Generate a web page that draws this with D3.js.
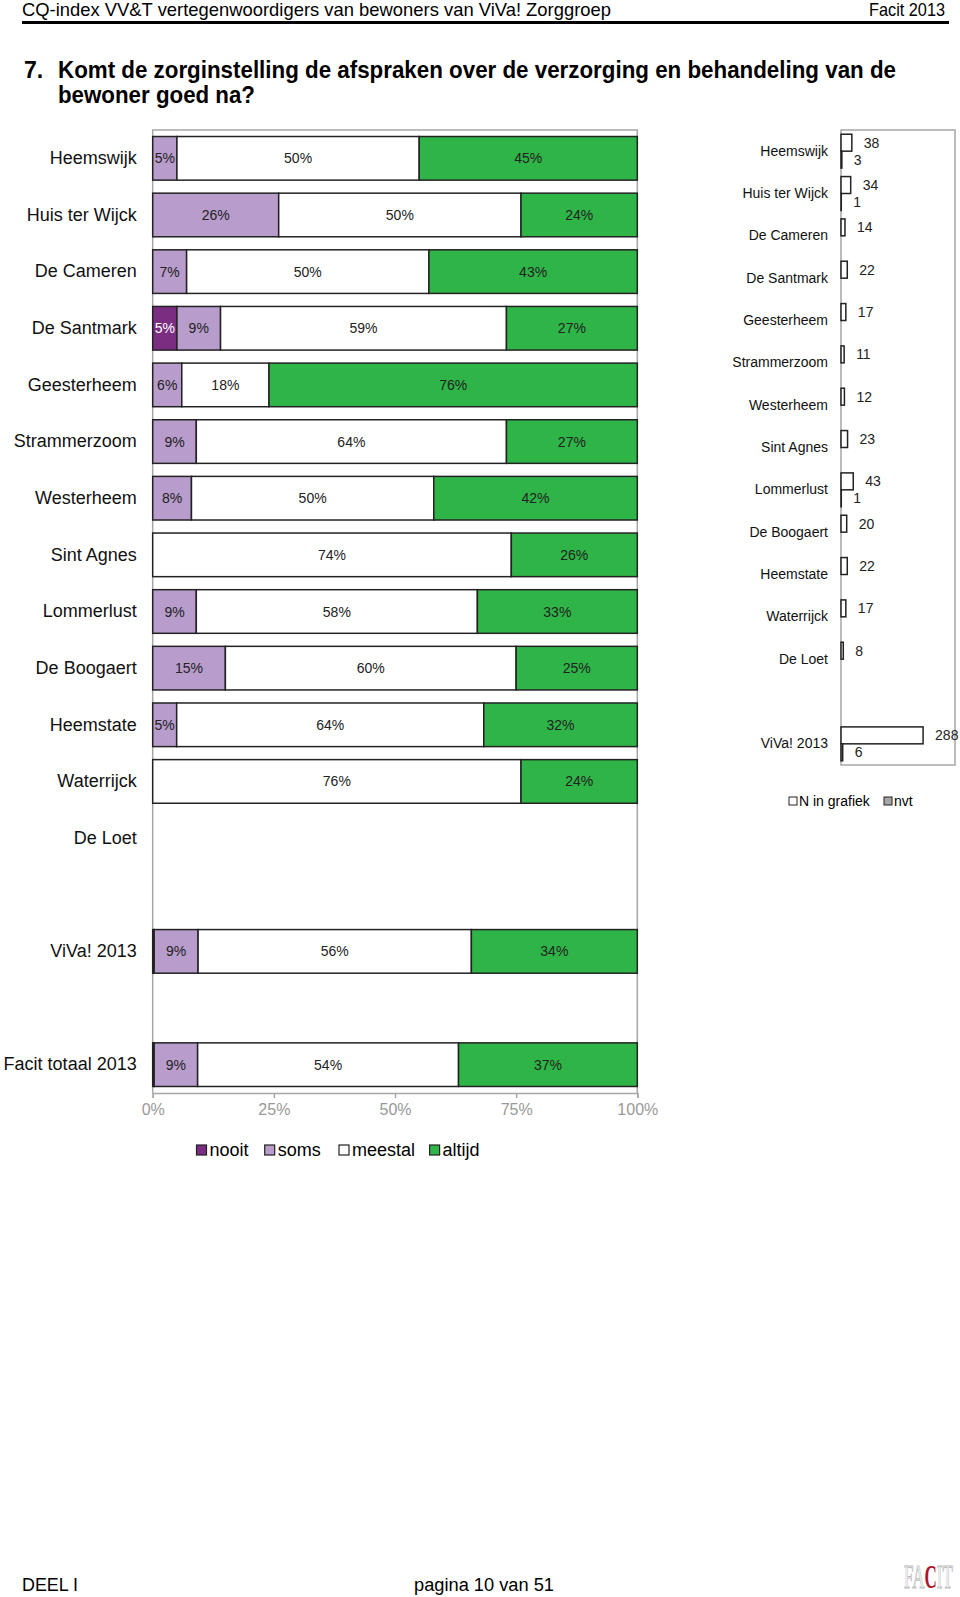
<!doctype html>
<html lang="nl">
<head>
  <meta charset="utf-8">
  <title>Komt de zorginstelling de afspraken na - D3</title>
  <style>
    body { margin: 0; background: #fff; }
    svg { display: block; font-family: "Liberation Sans", Arial, sans-serif; }
  </style>
</head>
<body>
  <svg></svg>
  <script src="https://cdn.jsdelivr.net/npm/d3@7/dist/d3.min.js"></script>
  <script>
    const width = 960;
    const height = 1597;

    // linker grafiek: null = lege rij (tussenruimte of geen data)
    const categories = ['Heemswijk', 'Huis ter Wijck', 'De Cameren', 'De Santmark', 'Geesterheem',
      'Strammerzoom', 'Westerheem', 'Sint Agnes', 'Lommerlust', 'De Boogaert', 'Heemstate',
      'Waterrijck', 'De Loet', 'gap1', 'ViVa! 2013', 'gap2', 'Facit totaal 2013'];
    const nooit   = [0, 0, 0, 5, 0, 0, 0, 0, 0, 0, 0, 0, null, null, 0.3, null, 0.3];
    const soms    = [5, 26, 7, 9, 6, 9, 8, 0, 9, 15, 5, 0, null, null, 9, null, 9];
    const meestal = [50, 50, 50, 59, 18, 64, 50, 74, 58, 60, 64, 76, null, null, 56, null, 54];
    const altijd  = [45, 24, 43, 27, 76, 27, 42, 26, 33, 25, 32, 24, null, null, 34, null, 37];
    const xTicks = [0, 0.25, 0.5, 0.75, 1];

    // rechter grafiek
    const nCategories = ['Heemswijk', 'Huis ter Wijck', 'De Cameren', 'De Santmark', 'Geesterheem',
      'Strammerzoom', 'Westerheem', 'Sint Agnes', 'Lommerlust', 'De Boogaert', 'Heemstate',
      'Waterrijck', 'De Loet', 'gap', 'ViVa! 2013'];
    const nInGrafiek = [38, 34, 14, 22, 17, 11, 12, 23, 43, 20, 22, 17, 8, null, 288];
    const nvt        = [3, 1, 0, 0, 0, 0, 0, 0, 1, 0, 0, 0, 0, null, 6];

    const keys = ['nooit', 'soms', 'meestal', 'altijd'];
    const colors = { nooit: '#7b2d82', soms: '#b89ccb', meestal: '#ffffff', altijd: '#2fb447' };

    const svg = d3.select('svg')
      .attr('width', width)
      .attr('height', height)
      .attr('viewBox', [0, 0, width, height]);

    const narrow = '"Liberation Sans Narrow", "Liberation Sans", sans-serif';

    // kop en voettekst
    function drawPage() {
      svg.append('text')
        .text('CQ-index VV&T vertegenwoordigers van bewoners van ViVa! Zorggroep')
        .attr('x', 22).attr('y', 16)
        .attr('font-family', narrow)
        .attr('font-size', 19)
        .attr('textLength', 589).attr('lengthAdjust', 'spacingAndGlyphs');
      svg.append('text')
        .text('Facit 2013')
        .attr('x', 945).attr('y', 16)
        .attr('text-anchor', 'end')
        .attr('font-family', narrow)
        .attr('font-size', 19)
        .attr('textLength', 76).attr('lengthAdjust', 'spacingAndGlyphs');
      svg.append('line')
        .attr('x1', 22).attr('x2', 949)
        .attr('y1', 22.5).attr('y2', 22.5)
        .attr('stroke', '#000').attr('stroke-width', 3);

      svg.append('text').text('7.')
        .attr('x', 24).attr('y', 78)
        .attr('font-family', narrow).attr('font-weight', 'bold').attr('font-size', 23);
      svg.append('text')
        .text('Komt de zorginstelling de afspraken over de verzorging en behandeling van de')
        .attr('x', 58).attr('y', 78)
        .attr('font-family', narrow).attr('font-weight', 'bold').attr('font-size', 23)
        .attr('textLength', 838).attr('lengthAdjust', 'spacingAndGlyphs');
      svg.append('text')
        .text('bewoner goed na?')
        .attr('x', 58).attr('y', 103)
        .attr('font-family', narrow).attr('font-weight', 'bold').attr('font-size', 23)
        .attr('textLength', 197).attr('lengthAdjust', 'spacingAndGlyphs');

      svg.append('text').text('DEEL I')
        .attr('x', 22).attr('y', 1591)
        .attr('font-family', narrow).attr('font-size', 18)
        .attr('textLength', 56).attr('lengthAdjust', 'spacingAndGlyphs');
      svg.append('text').text('pagina 10 van 51')
        .attr('x', 414).attr('y', 1591)
        .attr('font-family', narrow).attr('font-size', 18)
        .attr('textLength', 140).attr('lengthAdjust', 'spacingAndGlyphs');

      // logo (smal geschaald)
      const logo = svg.append('g')
        .attr('transform', 'translate(904,1588) scale(0.5,1)');
      const logoText = logo.append('text')
        .attr('x', 0).attr('y', 0)
        .attr('font-family', '"Liberation Serif", serif')
        .attr('font-size', 34);
      logoText.append('tspan').text('FA').attr('fill', 'none').attr('stroke', '#bbb').attr('stroke-width', 1);
      logoText.append('tspan').text('C').attr('fill', '#b0152e').attr('font-weight', 'bold');
      logoText.append('tspan').text('IT').attr('fill', 'none').attr('stroke', '#bbb').attr('stroke-width', 1);
    }

    // linker gestapelde staafgrafiek
    function drawStacked() {
      const left = 152.7, right = 637.3, top = 130, bottom = 1093;

      const x = d3.scaleLinear().domain([0, 1]).range([left, right]);
      const y = d3.scaleBand().domain(categories).range([top, bottom])
        .paddingInner(0.23).paddingOuter(0.115);

      const rows = categories.map((c, i) => ({
        name: c, nooit: nooit[i], soms: soms[i], meestal: meestal[i], altijd: altijd[i]
      })).filter(d => d.altijd !== null);

      const series = d3.stack().keys(keys).offset(d3.stackOffsetExpand)(rows);

      // kader
      svg.append('path')
        .attr('d', `M${left},${bottom}V${top}H${right}V${bottom}`)
        .attr('fill', 'none').attr('stroke', '#a6a6a6').attr('stroke-width', 1.5);

      const g = svg.append('g');
      series.forEach(s => {
        const key = s.key;
        g.append('g').selectAll('rect')
          .data(s.filter(d => d[1] - d[0] > 0))
          .join('rect')
          .attr('x', d => x(d[0]))
          .attr('y', d => y(d.data.name))
          .attr('width', d => x(d[1]) - x(d[0]))
          .attr('height', y.bandwidth())
          .attr('fill', colors[key])
          .attr('stroke', '#222')
          .attr('stroke-width', 1.5);

        g.append('g').selectAll('text')
          .data(s.filter(d => d.data[key] >= 3))
          .join('text')
          .attr('x', d => (x(d[0]) + x(d[1])) / 2)
          .attr('y', d => y(d.data.name) + y.bandwidth() / 2)
          .attr('text-anchor', 'middle')
          .attr('dominant-baseline', 'central')
          .attr('font-size', 14)
          .attr('fill', key === 'nooit' ? '#fff' : '#222')
          .text(d => d.data[key] + '%');
      });

      // categorie labels
      svg.append('g')
        .attr('transform', `translate(${left - 13},0)`)
        .call(d3.axisLeft(y).tickSize(0).tickFormat(d => d.startsWith('gap') ? '' : d))
        .call(a => a.select('.domain').remove())
        .call(a => a.selectAll('text')
          .attr('font-size', 18)
          .attr('font-family', '"Liberation Sans", Arial, sans-serif')
          .attr('fill', '#111'));

      // horizontale as
      svg.append('g')
        .attr('transform', `translate(0,${bottom})`)
        .call(d3.axisBottom(x).tickValues(xTicks).tickFormat(d3.format('.0%')).tickSize(5).tickPadding(6))
        .call(a => a.select('.domain').attr('stroke', '#a6a6a6').attr('stroke-width', 1.5))
        .call(a => a.selectAll('.tick line').attr('stroke', '#a6a6a6').attr('stroke-width', 1.5))
        .call(a => a.selectAll('text')
          .attr('font-size', 16)
          .attr('font-family', '"Liberation Sans", Arial, sans-serif')
          .attr('fill', '#999'));

      // legenda
      const legendX = [196.5, 264.7, 339, 429.6];
      const legend = svg.append('g').selectAll('g')
        .data(keys).join('g')
        .attr('transform', (d, i) => `translate(${legendX[i]},1150)`);
      legend.append('rect')
        .attr('x', 0).attr('y', -5).attr('width', 10).attr('height', 10)
        .attr('fill', d => colors[d]).attr('stroke', '#222').attr('stroke-width', 1.2);
      legend.append('text')
        .attr('x', 13).attr('y', 0)
        .attr('dominant-baseline', 'central')
        .attr('font-size', 18)
        .text(d => d);
    }

    // rechter grafiek met aantallen
    function drawCounts() {
      const left = 841, right = 955, top = 130, bottom = 765;

      const x = d3.scaleLinear().domain([0, 400]).range([left, right]);
      const y = d3.scaleBand().domain(nCategories).range([top, bottom])
        .paddingInner(0.2).paddingOuter(0.1);
      const sub = d3.scaleBand().domain(['n', 'nvt']).range([0, y.bandwidth()]);

      svg.append('rect')
        .attr('x', left).attr('y', top)
        .attr('width', right - left).attr('height', bottom - top)
        .attr('fill', 'none').attr('stroke', '#a6a6a6').attr('stroke-width', 1.5);

      const rows = nCategories.map((c, i) => ({ name: c, n: nInGrafiek[i], nvt: nvt[i] }))
        .filter(d => d.n !== null);

      const bars = [
        { key: 'n', fill: '#fff' },
        { key: 'nvt', fill: '#a6a6a6' }
      ];
      bars.forEach(b => {
        const data = rows.filter(d => d[b.key] > 0);
        svg.append('g').selectAll('rect')
          .data(data).join('rect')
          .attr('x', x(0))
          .attr('y', d => y(d.name) + sub(b.key))
          .attr('width', d => x(d[b.key]) - x(0))
          .attr('height', sub.bandwidth())
          .attr('fill', b.fill)
          .attr('stroke', '#222')
          .attr('stroke-width', 1.5);
        svg.append('g').selectAll('text')
          .data(data).join('text')
          .attr('x', d => x(d[b.key]) + 12)
          .attr('y', d => y(d.name) + sub(b.key) + sub.bandwidth() / 2)
          .attr('dominant-baseline', 'central')
          .attr('font-size', 14)
          .attr('fill', '#222')
          .text(d => d[b.key]);
      });

      svg.append('g')
        .attr('transform', `translate(${left - 10},0)`)
        .call(d3.axisLeft(y).tickSize(0).tickFormat(d => d === 'gap' ? '' : d))
        .call(a => a.select('.domain').remove())
        .call(a => a.selectAll('text')
          .attr('font-size', 14)
          .attr('font-family', '"Liberation Sans", Arial, sans-serif')
          .attr('fill', '#111'));

      // legenda
      const legendItems = [
        { label: 'N in grafiek', fill: '#fff', x: 789 },
        { label: 'nvt', fill: '#a6a6a6', x: 884 }
      ];
      const legend = svg.append('g').selectAll('g')
        .data(legendItems).join('g')
        .attr('transform', d => `translate(${d.x},801)`);
      legend.append('rect')
        .attr('x', 0).attr('y', -4).attr('width', 8).attr('height', 8)
        .attr('fill', d => d.fill).attr('stroke', '#222').attr('stroke-width', 1);
      legend.append('text')
        .attr('x', 10).attr('y', 0)
        .attr('dominant-baseline', 'central')
        .attr('font-size', 14)
        .text(d => d.label);
    }

    drawPage();
    drawStacked();
    drawCounts();
  </script>
</body>
</html>
